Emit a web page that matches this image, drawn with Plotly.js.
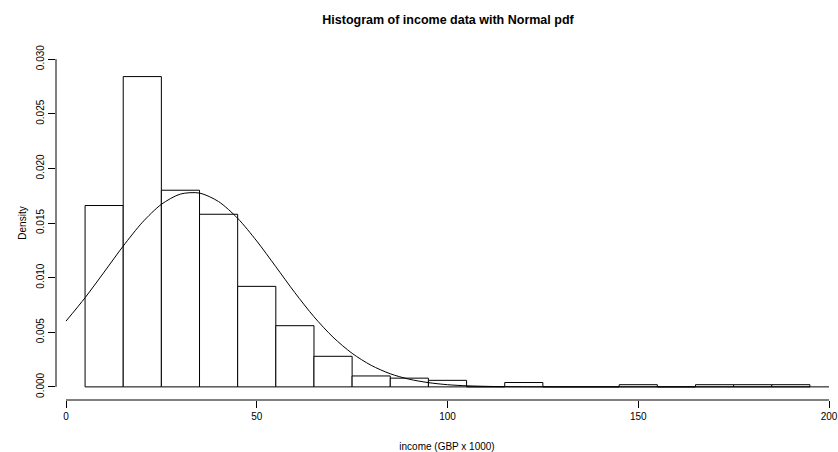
<!DOCTYPE html>
<html>
<head>
<meta charset="utf-8">
<script src="https://cdn.plot.ly/plotly-3.0.1.min.js"></script>
<style>html,body{margin:0;padding:0;background:#fff;}#chart{width:838px;height:452px;}</style>
</head>
<body>
<div id="chart"></div>
<script>
// Histogram bins (midpoints, width 10) and densities
const binMids = [10, 20, 30, 40, 50, 60, 70, 80, 90, 100, 110, 120, 130, 140, 150, 160, 170, 180, 190];
const binDensity = [0.0166, 0.0284, 0.0180, 0.0158, 0.0092, 0.0056, 0.0028, 0.0010, 0.0008, 0.0006, 0, 0.0004, 0, 0, 0.0002, 0, 0.0002, 0.0002, 0.0002];
const binWidth = 10;

// Normal pdf curve points
const curveX = [0, 5, 10, 15, 20, 25, 30, 35, 40, 45, 50, 55, 60, 65, 70, 75, 80, 85, 90, 95, 100, 105, 110, 115, 120, 130, 140, 200];
const curveY = [0.00602, 0.00816, 0.01051, 0.01289, 0.01505, 0.01671, 0.01765, 0.01774, 0.01696, 0.01543, 0.01335, 0.01100, 0.00862, 0.00642, 0.00455, 0.00307, 0.00197, 0.00120, 0.00070, 0.00039, 0.00020, 0.00010, 0.00005, 0.00002, 0.00001, 0.000001, 0, 0];

const xTicks = [0, 50, 100, 150, 200];
const yTicks = [0, 0.005, 0.010, 0.015, 0.020, 0.025, 0.030];

const font = {family: 'Liberation Sans, Arial, Helvetica, sans-serif', size: 10, color: '#000'};

const traces = [
  {
    type: 'bar',
    x: binMids,
    y: binDensity,
    width: binMids.map(() => binWidth),
    marker: {color: 'rgba(255,255,255,1)', line: {color: '#000', width: 1}},
    hoverinfo: 'x+y',
    showlegend: false
  },
  {
    type: 'scatter',
    mode: 'lines',
    x: curveX,
    y: curveY,
    line: {color: '#000', width: 1, shape: 'spline', smoothing: 0.8},
    hoverinfo: 'skip',
    showlegend: false
  }
];

const layout = {
  width: 838,
  height: 452,
  margin: {l: 56, r: 0, t: 46, b: 52, pad: 0},
  paper_bgcolor: '#fff',
  plot_bgcolor: '#fff',
  font: font,
  bargap: 0,
  title: {
    text: '<b>Histogram of income data with Normal pdf</b>',
    font: {family: font.family, size: 12.5, color: '#000'},
    x: 448/838, xanchor: 'center',
    y: 1 - 20/452, yanchor: 'middle', yref: 'container'
  },
  xaxis: {
    range: [-2.62, 202.36],
    tickvals: xTicks,
    ticktext: xTicks.map(String),
    ticks: 'outside', ticklen: 7, tickwidth: 1, tickcolor: '#000',
    showline: false, showgrid: false, zeroline: false,
    tickfont: font,
    title: {text: 'income (GBP x 1000)', font: font, standoff: 24}
  },
  yaxis: {
    range: [-0.0012, 0.0312],
    tickvals: yTicks,
    ticktext: yTicks.map(v => v.toFixed(3)),
    tickangle: -90,
    ticks: 'outside', ticklen: 7, tickwidth: 1, tickcolor: '#000',
    showline: false, showgrid: false, zeroline: false,
    tickfont: font,
    title: {text: 'Density', font: font, standoff: 6}
  },
  shapes: [
    {type: 'line', xref: 'x', yref: 'paper', x0: xTicks[0], x1: xTicks[xTicks.length - 1], y0: 0, y1: 0, line: {color: '#000', width: 1}},
    {type: 'line', xref: 'paper', yref: 'y', x0: 0, x1: 0, y0: yTicks[0], y1: yTicks[yTicks.length - 1], line: {color: '#000', width: 1}}
  ]
};

Plotly.newPlot('chart', traces, layout, {displayModeBar: false, staticPlot: true});
</script>
</body>
</html>
